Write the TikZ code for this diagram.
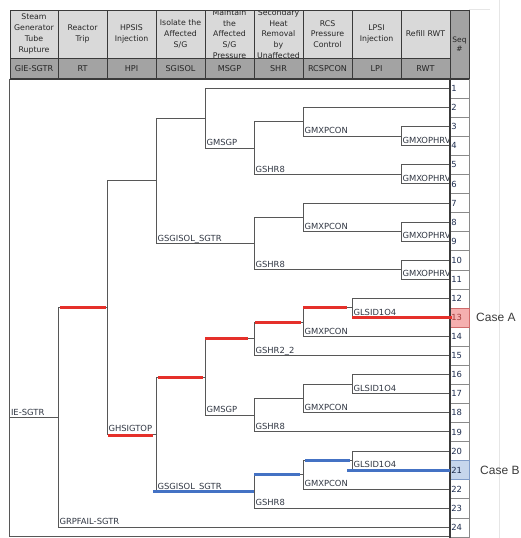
\documentclass[tikz,border=0pt]{standalone}
\usepackage{fontspec}
\setmainfont{DejaVu Sans}
\newfontfamily\casefont{Liberation Sans}
\usetikzlibrary{calc}

\definecolor{hdrlight}{HTML}{D9D9D9}
\definecolor{hdrdark}{HTML}{A3A3A3}
\definecolor{hdrline}{HTML}{3A3A3A}
\definecolor{hdrtextc}{HTML}{262626}
\definecolor{linegray}{HTML}{575757}
\definecolor{labelgray}{HTML}{323844}
\definecolor{hired}{HTML}{E5302A}
\definecolor{hiblue}{HTML}{4472C4}
\definecolor{seqtext}{HTML}{1F2E4F}
\definecolor{numred}{HTML}{A33A3A}
\definecolor{seqline}{HTML}{8A8A8A}
\definecolor{pinkcell}{HTML}{F5AFAF}
\definecolor{pinkedge}{HTML}{CF6A6A}
\definecolor{bluecell}{HTML}{C6D6EC}
\definecolor{blueedge}{HTML}{809CC8}
\definecolor{casegray}{HTML}{3C3C3C}
\definecolor{framegray}{HTML}{E6E6E6}

\begin{document}
\begin{tikzpicture}[x=1pt,y=-1pt,
  declare function={ry(\k)=79+19.08*(\k-0.5);},
  hdrcell/.style={draw=hdrline,line width=0.8pt},
  hdrtext/.style={align=center,text=hdrtextc,inner sep=0pt,
    font=\fontsize{7.8}{10.8}\selectfont},
  codetext/.style={text=hdrtextc,inner sep=0pt,font=\fontsize{8.1}{9}\selectfont},
  treeline/.style={draw=linegray,line width=1pt},
  brlabel/.style={anchor=base west,inner sep=0pt,xshift=1.3pt,yshift=2.4pt,
    text=labelgray,font=\fontsize{8.4}{9.5}\selectfont},
  redbar/.style={draw=hired,line width=3pt},
  bluebar/.style={draw=hiblue,line width=3pt},
  seqgrid/.style={draw=seqline,line width=0.6pt},
  seqnum/.style={anchor=west,inner sep=0pt,font=\fontsize{8.4}{9.5}\selectfont},
  casetext/.style={anchor=west,inner sep=0pt,text=casegray,
    font=\casefont\fontsize{12}{14}\selectfont},
]
\useasboundingbox (0,0) rectangle (520,538);
\fill[white] (0,0) rectangle (520,538);

% faint page frame
\draw[framegray,line width=0.8pt] (499.5,0) -- (499.5,538);
\draw[framegray,line width=0.8pt] (469,9.5) -- (490,9.5);

% ---------- header ----------
\foreach \xa/\xb/\txt/\code in {
  10/58/{Steam\\Generator\\Tube\\Rupture}/GIE-SGTR,
  58/107/{Reactor\\Trip}/RT,
  107/156/{HPSIS\\Injection}/HPI,
  156/205/{Isolate the\\Affected\\S/G}/SGISOL,
  205/254/{Maintain\\the\\Affected\\S/G\\Pressure}/MSGP,
  254/303/{Secondary\\Heat\\Removal\\by\\Unaffected}/SHR,
  303/352/{RCS\\Pressure\\Control}/RCSPCON,
  352/401/{LPSI\\Injection}/LPI,
  401/450/{Refill RWT}/RWT}{
  \fill[hdrlight] (\xa,10) rectangle (\xb,58);
  \fill[hdrdark] (\xa,58) rectangle (\xb,79);
  \begin{scope}
    \clip (\xa,10) rectangle (\xb,58);
    \node[hdrtext] (h-\code) at ({(\xa+\xb)/2},34) {\txt};
  \end{scope}
  \node[codetext] (c-\code) at ({(\xa+\xb)/2},68.5) {\code};
  \draw[hdrcell] (\xa,10) rectangle (\xb,58);
  \draw[hdrcell] (\xa,58) rectangle (\xb,79);
}
\fill[hdrdark] (450,10) rectangle (469,79);
\draw[hdrcell] (450,10) rectangle (469,79);
\node[hdrtext,font=\fontsize{7.5}{9.5}\selectfont] (h-seq) at (459.5,44) {Seq\\\#};

% ---------- tree frame ----------
\draw[linegray,line width=1pt] (9.5,79) -- (9.5,536.5) -- (450,536.5);

% ---------- branch points ----------
\coordinate (ie)  at (9.5,{ry(18.2421875)});
\coordinate (rt)  at (58,{ry(18.2421875)});
\coordinate (hpi) at (107,{ry(12.484375)});
\coordinate (sg1) at (156,{ry(5.84375)});
\coordinate (ms1) at (205,{ry(2.5625)});
\coordinate (sh1) at (254,{ry(4.125)});
\coordinate (rc1) at (303,{ry(2.75)});
\coordinate (rw1) at (401,{ry(3.5)});
\coordinate (rw2) at (401,{ry(5.5)});
\coordinate (sh2) at (254,{ry(9.125)});
\coordinate (rc2) at (303,{ry(7.75)});
\coordinate (rw3) at (401,{ry(8.5)});
\coordinate (rw4) at (401,{ry(10.5)});
\coordinate (sg2) at (156,{ry(19.125)});
\coordinate (ms2) at (205,{ry(16.125)});
\coordinate (sh3) at (254,{ry(14.125)});
\coordinate (rc3) at (303,{ry(13.25)});
\coordinate (lp1) at (352,{ry(12.5)});
\coordinate (sh4) at (254,{ry(18.125)});
\coordinate (rc4) at (303,{ry(17.25)});
\coordinate (lp2) at (352,{ry(16.5)});
\coordinate (sh5) at (254,{ry(22.125)});
\coordinate (rc5) at (303,{ry(21.25)});
\coordinate (lp3) at (352,{ry(20.5)});
\foreach \k in {1,...,24} \coordinate (s\k) at (450,{ry(\k)});

% ---------- branches ----------
\draw[treeline] (ie) -- (rt);
\foreach \p/\c in {rt/hpi,rt/s24,hpi/sg1,hpi/sg2,sg1/ms1,sg1/sh2,
  ms1/s1,ms1/sh1,sh1/rc1,sh1/rw2,rc1/s2,rc1/rw1,rw1/s3,rw1/s4,rw2/s5,rw2/s6,
  sh2/rc2,sh2/rw4,rc2/s7,rc2/rw3,rw3/s8,rw3/s9,rw4/s10,rw4/s11,
  sg2/ms2,sg2/sh5,ms2/sh3,ms2/sh4,sh3/rc3,sh3/s15,rc3/lp1,rc3/s14,lp1/s12,lp1/s13,
  sh4/rc4,sh4/s19,rc4/lp2,rc4/s18,lp2/s16,lp2/s17,
  sh5/rc5,sh5/s23,rc5/lp3,rc5/s22,lp3/s20,lp3/s21}
  \draw[treeline] (\p) |- (\c);

% ---------- branch labels ----------
\node[brlabel] (lab-ie) at (ie) {IE-SGTR};
\foreach \p/\c/\t in {rt/s24/GRPFAIL-SGTR,hpi/sg2/GHSIGTOP,sg1/sh2/GSGISOL\_SGTR,
  ms1/sh1/GMSGP,sh1/rw2/GSHR8,rc1/rw1/GMXPCON,rw1/s4/GMXOPHRV,rw2/s6/GMXOPHRV,
  sh2/rw4/GSHR8,rc2/rw3/GMXPCON,rw3/s9/GMXOPHRV,rw4/s11/GMXOPHRV,
  sg2/sh5/GSGISOL\_SGTR,ms2/sh4/GMSGP,sh3/s15/GSHR2\_2,rc3/s14/GMXPCON,
  lp1/s13/GLSID1O4,sh4/s19/GSHR8,rc4/s18/GMXPCON,lp2/s17/GLSID1O4,
  sh5/s23/GSHR8,rc5/s22/GMXPCON,lp3/s21/GLSID1O4}
  \node[brlabel] (lab-\c) at (\p |- \c) {\t};

% ---------- sequence column ----------
\fill[white] (450,79) rectangle (469,537);
\fill[pinkcell] (450,{79+19.08*12}) rectangle (469,{79+19.08*13});
\fill[bluecell] (450,{79+19.08*20}) rectangle (469,{79+19.08*21});
\foreach \k in {1,...,24}
  \draw[seqgrid] (450,{79+19.08*(\k-1)}) rectangle (469,{79+19.08*\k});
\draw[pinkedge,line width=0.7pt] (450,{79+19.08*12}) rectangle (469,{79+19.08*13});
\draw[blueedge,line width=0.7pt] (450,{79+19.08*20}) rectangle (469,{79+19.08*21});
\foreach \k in {1,...,24}{
  \ifnum\k=13 \def\numcol{numred}\else\def\numcol{seqtext}\fi
  \node[seqnum,text=\numcol] (n\k) at (451.2,{ry(\k)}) {\k};
}
\draw[hdrline,line width=1.5pt] (450,79) -- (450,537.5);
\draw[hdrline,line width=1.8pt] (9.5,79) -- (469,79);

% ---------- highlighted paths ----------
\draw[redbar] ($(rt |- hpi)+(2,0)$) -- ($(hpi)+(-1,0)$);
\draw[redbar] ($(hpi |- sg2)+(1,1)$) -- ($(sg2)+(-3,1)$);
\draw[redbar] ($(sg2 |- ms2)+(2,0)$) -- ($(ms2)+(-2,0)$);
\draw[redbar] ($(ms2 |- sh3)+(0,0)$) -- ($(sh3)+(-6,0)$);
\draw[redbar] ($(sh3 |- rc3)+(1,0)$) -- ($(rc3)+(-2,0)$);
\draw[redbar] ($(rc3 |- lp1)+(0,0)$) -- ($(lp1)+(-5,0)$);
\draw[redbar] ($(lp1 |- s13)+(0,0)$) -- ($(s13)+(2,0)$);
\draw[bluebar] ($(sg2 |- sh5)+(-3,0)$) -- ($(sh5)+(0,0)$);
\draw[bluebar] ($(sh5 |- rc5)+(0,0)$) -- ($(rc5)+(-3,0)$);
\draw[bluebar] ($(rc5 |- lp3)+(2,0)$) -- ($(lp3)+(-2,0)$);
\draw[bluebar] ($(lp3 |- s21)+(-5,0)$) -- ($(s21)+(0,0)$);

% ---------- case captions ----------
\node[casetext] (caseA) at (476,{ry(13)}) {Case A};
\node[casetext] (caseB) at (480,{ry(21)}) {Case B};
\end{tikzpicture}
\end{document}
